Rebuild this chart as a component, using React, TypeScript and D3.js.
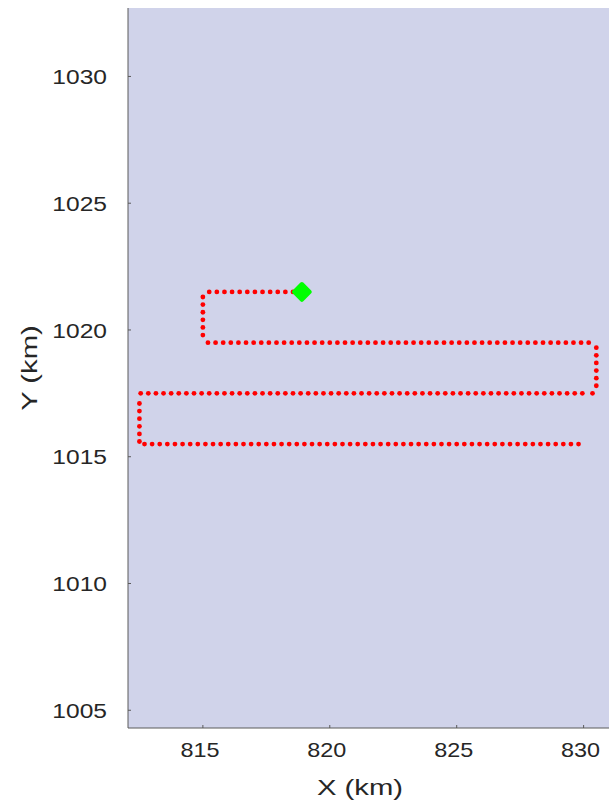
import * as d3 from 'd3';

// Survey track (km)
const row1Y = 1021.5;
const row1X = [818.85, 818.55, 818.25, 817.95, 817.65, 817.35, 817.05, 816.75, 816.45, 816.15, 815.85, 815.55, 815.25];
const col1X = 815.0;
const col1Y = [1021.3, 1021.0, 1020.7, 1020.4, 1020.1, 1019.8];
const row2Y = 1019.5;
const row2X = [
  815.2, 815.5, 815.8, 816.1, 816.4, 816.7, 817.0, 817.3, 817.6, 817.9, 818.2, 818.5, 818.8, 819.1, 819.4, 819.7,
  820.0, 820.3, 820.6, 820.9, 821.2, 821.5, 821.8, 822.1, 822.4, 822.7, 823.0, 823.3, 823.6, 823.9, 824.2, 824.5,
  824.8, 825.1, 825.4, 825.7, 826.0, 826.3, 826.6, 826.9, 827.2, 827.5, 827.8, 828.1, 828.4, 828.7, 829.0, 829.3,
  829.6, 829.9, 830.2,
];
const col2X = 830.5;
const col2Y = [1019.3, 1019.0, 1018.7, 1018.4, 1018.1, 1017.8];
const row3Y = 1017.5;
const row3X = [
  830.35, 829.95, 829.65, 829.35, 829.05, 828.75, 828.45, 828.15, 827.85, 827.55, 827.25, 826.95, 826.65, 826.35,
  826.05, 825.75, 825.45, 825.15, 824.85, 824.55, 824.25, 823.95, 823.65, 823.35, 823.05, 822.75, 822.45, 822.15,
  821.85, 821.55, 821.25, 820.95, 820.65, 820.35, 820.05, 819.75, 819.45, 819.15, 818.85, 818.55, 818.25, 817.95,
  817.65, 817.35, 817.05, 816.75, 816.45, 816.15, 815.85, 815.55, 815.25, 814.95, 814.65, 814.35, 814.05, 813.75,
  813.45, 813.15, 812.85, 812.55,
];
const col3X = 812.5;
const col3Y = [1017.1, 1016.8, 1016.5, 1016.2, 1015.9, 1015.6];
const row4Y = 1015.5;
const row4X = [
  812.7, 813.0, 813.3, 813.6, 813.9, 814.2, 814.5, 814.8, 815.1, 815.4, 815.7, 816.0, 816.3, 816.6, 816.9, 817.2,
  817.5, 817.8, 818.1, 818.4, 818.7, 819.0, 819.3, 819.6, 819.9, 820.2, 820.5, 820.8, 821.1, 821.4, 821.7, 822.0,
  822.3, 822.6, 822.9, 823.2, 823.5, 823.8, 824.1, 824.4, 824.7, 825.0, 825.3, 825.6, 825.9, 826.2, 826.5, 826.8,
  827.1, 827.4, 827.7, 828.0, 828.3, 828.6, 828.9, 829.2, 829.5, 829.8,
];

// start position (green marker)
const startPoint: [number, number] = [818.9, 1021.5];

const xTicks = [815, 820, 825, 830];
const yTicks = [1005, 1010, 1015, 1020, 1025, 1030];

const W = 609;
const H = 809;
const plot = { left: 128, right: 609, top: 8, bottom: 728 };
const textColor = '#262626';
const axisColor = '#5a5a5a';
const font = '"Liberation Sans", Arial, Helvetica, sans-serif';
// the original text renders wider than Arial, so stretch it a bit
const tickStretch = 1.17;
const titleStretch = 1.33;

export default function App() {
  const x = d3.scaleLinear().domain([812.05, 831.0]).range([plot.left, plot.right]);
  const y = d3.scaleLinear().domain([1004.3, 1032.7]).range([plot.bottom, plot.top]);

  const track: [number, number][] = [
    ...row1X.map((v) => [v, row1Y] as [number, number]),
    ...col1Y.map((v) => [col1X, v] as [number, number]),
    ...row2X.map((v) => [v, row2Y] as [number, number]),
    ...col2Y.map((v) => [col2X, v] as [number, number]),
    ...row3X.map((v) => [v, row3Y] as [number, number]),
    ...col3Y.map((v) => [col3X, v] as [number, number]),
    ...row4X.map((v) => [v, row4Y] as [number, number]),
  ];

  const diamond = d3.symbol().type(d3.symbolSquare).size(125)();

  return (
    <div style={{ position: 'fixed', left: 0, top: 0 }}>
      <svg width={W} height={H} style={{ display: 'block', background: '#fff' }}>
        {/* background field */}
        <rect
          x={plot.left}
          y={plot.top}
          width={plot.right - plot.left}
          height={plot.bottom - plot.top}
          fill="#d0d3ea"
        />

        {/* track */}
        <g fill="#ff0000">
          {track.map((p, i) => (
            <circle key={i} cx={x(p[0])} cy={y(p[1])} r={2.4} />
          ))}
        </g>

        {/* start marker */}
        <path
          d={diamond as string}
          transform={`translate(${x(startPoint[0])},${y(startPoint[1])}) rotate(45)`}
          fill="#00ff00"
          stroke="#00ff00"
          strokeWidth={4}
          strokeLinejoin="round"
        />

        {/* axes */}
        <line x1={plot.left} x2={plot.left} y1={plot.top} y2={plot.bottom} stroke={axisColor} strokeWidth={1} />
        <line x1={plot.left} x2={plot.right} y1={plot.bottom} y2={plot.bottom} stroke={axisColor} strokeWidth={1} />

        {xTicks.map((t) => (
          <g key={t}>
            <line x1={x(t)} x2={x(t)} y1={plot.bottom} y2={plot.bottom - 3} stroke={axisColor} />
            <text
              transform={`translate(${x(t) - 3},757) scale(${tickStretch},1)`}
              textAnchor="middle"
              fontFamily={font}
              fontSize={20}
              fill={textColor}
            >
              {t}
            </text>
          </g>
        ))}
        {yTicks.map((t) => (
          <g key={t}>
            <line x1={plot.left} x2={plot.left + 3} y1={y(t)} y2={y(t)} stroke={axisColor} />
            <text
              transform={`translate(107,${y(t)}) scale(${tickStretch},1)`}
              dy="0.36em"
              textAnchor="end"
              fontFamily={font}
              fontSize={21}
              fill={textColor}
            >
              {t}
            </text>
          </g>
        ))}

        <text
          transform={`translate(360,795) scale(${titleStretch},1)`}
          textAnchor="middle"
          fontFamily={font}
          fontSize={22}
          fill={textColor}
        >
          X (km)
        </text>
        <text
          transform={`translate(37,${(plot.top + plot.bottom) / 2}) rotate(-90) scale(${titleStretch},1)`}
          textAnchor="middle"
          fontFamily={font}
          fontSize={22}
          fill={textColor}
        >
          Y (km)
        </text>
      </svg>
    </div>
  );
}
